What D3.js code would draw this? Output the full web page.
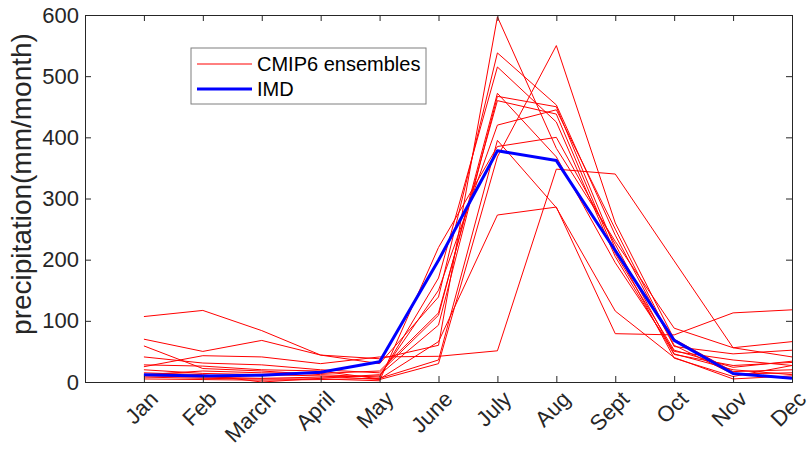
<!DOCTYPE html>
<html>
<head>
<meta charset="utf-8">
<script src="https://cdn.jsdelivr.net/npm/d3@7"></script>
<style>
  html, body { margin: 0; padding: 0; background: #fff; }
  text { font-family: "Liberation Sans", Arial, Helvetica, sans-serif; fill: #262626; }
</style>
</head>
<body>
<svg id="chart" width="809" height="450"></svg>
<script>
// Monthly climatology, mm/month
const months = ["Jan", "Feb", "March", "April", "May", "June", "July", "Aug", "Sept", "Oct", "Nov", "Dec"];
const yTicks = [0, 100, 200, 300, 400, 500, 600];

// Observed (IMD)
const imd = [12, 10, 11, 16, 33, 199, 378, 362, 215, 68, 14, 6];

// CMIP6 ensemble members
const ens01 = [107, 117, 84, 44, 38, 60, 597, 382, 230, 88, 56, 66];
const ens02 = [70, 50, 68, 44, 30, 139, 538, 453, 240, 58, 46, 52];
const ens03 = [59, 22, 18, 12, 8, 170, 515, 425, 205, 45, 27, 32];
const ens04 = [41, 31, 28, 20, 15, 109, 472, 368, 195, 50, 36, 27];
const ens05 = [25, 43, 41, 30, 41, 42, 51, 348, 340, 198, 56, 41];
const ens06 = [28, 26, 20, 18, 5, 66, 273, 286, 79, 77, 113, 118];
const ens07 = [20, 14, 12, 10, 4, 30, 368, 550, 260, 70, 17, 20];
const ens08 = [15, 12, 0, 6, 12, 93, 467, 450, 218, 39, 9, 27];
const ens09 = [10, 8, 6, 8, 10, 150, 420, 445, 250, 60, 13, 15];
const ens10 = [5, 4, 3, 4, 6, 36, 395, 285, 116, 40, 5, 10];
const ens11 = [8, 6, 5, 5, 2, 220, 385, 400, 225, 46, 20, 12];
const ens12 = [12, 18, 15, 14, 18, 113, 460, 438, 210, 52, 24, 34];
const ensembles = [ens01, ens02, ens03, ens04, ens05, ens06, ens07, ens08, ens09, ens10, ens11, ens12];

const svg = d3.select("#chart");
const plotLeft = 85, plotRight = 792, plotTop = 15, plotBottom = 382;
const axisColor = "#262626";

const x = d3.scaleLinear().domain([0, 12]).range([plotLeft, plotRight]);
const y = d3.scaleLinear().domain([0, 600]).range([plotBottom, plotTop]);

const line = d3.line()
  .x((d, i) => x(i + 1))
  .y(d => y(d));

svg.append("rect")
  .attr("x", plotLeft).attr("y", plotTop)
  .attr("width", plotRight - plotLeft).attr("height", plotBottom - plotTop)
  .attr("fill", "#fff");

svg.append("clipPath").attr("id", "plot-clip")
  .append("rect")
  .attr("x", plotLeft).attr("y", plotTop - 2)
  .attr("width", plotRight - plotLeft).attr("height", plotBottom - plotTop + 2);

const plot = svg.append("g").attr("clip-path", "url(#plot-clip)");

plot.selectAll("path.ens")
  .data(ensembles)
  .join("path")
  .attr("class", "ens")
  .attr("d", line)
  .attr("fill", "none")
  .attr("stroke", "#ff0000")
  .attr("stroke-width", 1);

plot.append("path")
  .datum(imd)
  .attr("d", line)
  .attr("fill", "none")
  .attr("stroke", "#0000ff")
  .attr("stroke-width", 3)
  .attr("stroke-linejoin", "round");

// Axes with inward ticks on all four sides
const tickLen = 6;
const xTickVals = d3.range(1, 13);

const xBottom = svg.append("g")
  .attr("transform", `translate(0,${plotBottom})`)
  .call(d3.axisBottom(x).tickValues(xTickVals).tickSize(-tickLen).tickFormat(""));
const xTop = svg.append("g")
  .attr("transform", `translate(0,${plotTop})`)
  .call(d3.axisTop(x).tickValues(xTickVals).tickSize(-tickLen).tickFormat(""));
const yLeft = svg.append("g")
  .attr("transform", `translate(${plotLeft},0)`)
  .call(d3.axisLeft(y).tickValues(yTicks).tickSize(-tickLen).tickPadding(6));
const yRight = svg.append("g")
  .attr("transform", `translate(${plotRight},0)`)
  .call(d3.axisRight(y).tickValues(yTicks).tickSize(-tickLen).tickFormat(""));

[xBottom, xTop, yLeft, yRight].forEach(g => {
  g.select(".domain").attr("stroke", axisColor).attr("stroke-width", 1);
  g.selectAll(".tick line").attr("stroke", axisColor);
});

yLeft.selectAll(".tick text")
  .attr("font-size", 22)
  .style("fill", axisColor)
  .style("font-family", '"Liberation Sans", Arial, sans-serif');

// Rotated month labels (the last one runs off the right edge)
svg.append("g")
  .selectAll("text")
  .data(months)
  .join("text")
  .attr("transform", (d, i) => `translate(${x(i + 1) + 10},${plotBottom + 13}) rotate(-45)`)
  .attr("text-anchor", "end")
  .attr("dy", "0.35em")
  .attr("font-size", 22)
  .text(d => d);

// Y axis title
svg.append("text")
  .attr("transform", `translate(31,184) rotate(-90)`)
  .attr("text-anchor", "middle")
  .attr("font-size", 28)
  .text("precipitation(mm/month)");

// Legend
const legend = svg.append("g");
legend.append("rect")
  .attr("x", 191).attr("y", 48)
  .attr("width", 235).attr("height", 56)
  .attr("fill", "#fff")
  .attr("stroke", "#7f7f7f")
  .attr("stroke-width", 1);
const legendItems = [
  { label: "CMIP6 ensembles", color: "#ff0000", width: 1 },
  { label: "IMD", color: "#0000ff", width: 3 }
];
legendItems.forEach((item, i) => {
  const cy = 64 + i * 25;
  legend.append("line")
    .attr("x1", 197).attr("x2", 252)
    .attr("y1", cy).attr("y2", cy)
    .attr("stroke", item.color)
    .attr("stroke-width", item.width);
  legend.append("text")
    .attr("x", 257).attr("y", cy)
    .attr("dy", "0.35em")
    .attr("font-size", 20)
    .style("fill", "#000")
    .text(item.label);
});
</script>
</body>
</html>
